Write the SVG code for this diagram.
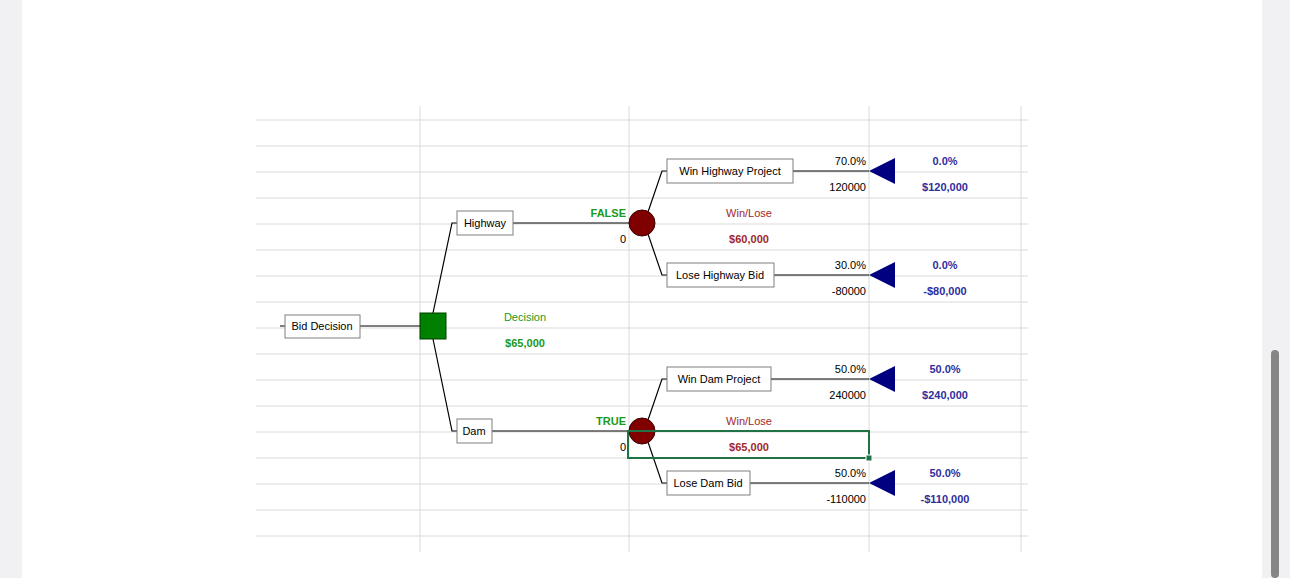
<svg xmlns="http://www.w3.org/2000/svg" width="1290" height="578" viewBox="0 0 1290 578">
<style>
.g{stroke:#dadada;stroke-width:1}
.b{fill:#fff;stroke:#7f7f7f;stroke-width:1}
.l{stroke:#000;stroke-width:1.2;fill:none}
text{font-family:"Liberation Sans",Arial,sans-serif;font-size:11px}
.r{text-anchor:end}
.c{text-anchor:middle}
.bd{font-weight:bold}
.nv{fill:#2e2e9e}
.dr{fill:#a0282a}
.gr{fill:#1a9a1a}
.tri{fill:#000080}
.chance{fill:#800000;stroke:#3a0000}
</style>
<rect width="1290" height="578" fill="#f1f1f3"/>
<rect x="22" y="0" width="1240" height="578" fill="#fff"/>
<rect x="1271" y="350" width="8" height="228" rx="4" fill="#858585"/>
<g id="grid">
<path class="g" d="M256 120H1028M256 146H1028M256 172H1028M256 198H1028M256 224H1028M256 250H1028M256 276H1028M256 302H1028M256 328H1028M256 354H1028M256 380H1028M256 406H1028M256 432H1028M256 458H1028M256 484H1028M256 510H1028M256 536H1028"/>
<path class="g" d="M420 106V552M629 106V552M869 106V552M1021 106V552"/>
</g>
<g id="connectors">
<path class="l" d="M280 326H285M360 326H420"/>
<path class="l" d="M433 313L452 223H457M513 223H629"/>
<path class="l" d="M433 339L452 431H457M492 431H629"/>
<path class="l" d="M648 212L662 171H667M793 171H869"/>
<path class="l" d="M648 234L662 275H667M774 275H869"/>
<path class="l" d="M648 420L662 379H667M771 379H869"/>
<path class="l" d="M648 442L662 483H667M750 483H869"/>
</g>
<g id="n-bid"><rect class="b" x="285" y="315" width="75" height="23"/><text x="322" y="330" class="c">Bid Decision</text></g>
<g id="n-decision"><rect x="420" y="313" width="26" height="26" fill="#008000" stroke="#004000"/>
<text x="525" y="321" class="c gr">Decision</text><text x="525" y="347" class="c gr bd">$65,000</text></g>
<g id="n-highway"><rect class="b" x="457" y="211" width="56" height="24"/><text x="485" y="227" class="c">Highway</text>
<text x="626" y="217" class="r gr bd">FALSE</text><text x="626" y="243" class="r">0</text></g>
<g id="n-chance1"><circle class="chance" cx="642" cy="223" r="13"/>
<text x="749" y="217" class="c dr">Win/Lose</text><text x="749" y="243" class="c dr bd">$60,000</text></g>
<g id="n-winhwy"><rect class="b" x="667" y="159" width="126" height="24"/><text x="730" y="175" class="c">Win Highway Project</text>
<text x="866" y="165" class="r">70.0%</text><text x="866" y="191" class="r">120000</text>
<polygon class="tri" points="869,171 895,158 895,184"/>
<text x="945" y="165" class="c nv bd">0.0%</text><text x="945" y="191" class="c nv bd">$120,000</text></g>
<g id="n-losehwy"><rect class="b" x="667" y="263" width="107" height="24"/><text x="720" y="279" class="c">Lose Highway Bid</text>
<text x="866" y="269" class="r">30.0%</text><text x="866" y="295" class="r">-80000</text>
<polygon class="tri" points="869,275 895,262 895,288"/>
<text x="945" y="269" class="c nv bd">0.0%</text><text x="945" y="295" class="c nv bd">-$80,000</text></g>
<g id="n-dam"><rect class="b" x="457" y="419" width="35" height="24"/><text x="474" y="435" class="c">Dam</text>
<text x="626" y="425" class="r gr bd">TRUE</text><text x="626" y="451" class="r">0</text></g>
<g id="n-chance2"><circle class="chance" cx="642" cy="431" r="13"/>
<text x="749" y="425" class="c dr">Win/Lose</text><text x="749" y="451" class="c dr bd">$65,000</text></g>
<g id="n-windam"><rect class="b" x="667" y="367" width="104" height="24"/><text x="719" y="383" class="c">Win Dam Project</text>
<text x="866" y="373" class="r">50.0%</text><text x="866" y="399" class="r">240000</text>
<polygon class="tri" points="869,379 895,366 895,392"/>
<text x="945" y="373" class="c nv bd">50.0%</text><text x="945" y="399" class="c nv bd">$240,000</text></g>
<g id="n-losedam"><rect class="b" x="667" y="471" width="83" height="24"/><text x="708" y="487" class="c">Lose Dam Bid</text>
<text x="866" y="477" class="r">50.0%</text><text x="866" y="503" class="r">-110000</text>
<polygon class="tri" points="869,483 895,470 895,496"/>
<text x="945" y="477" class="c nv bd">50.0%</text><text x="945" y="503" class="c nv bd">-$110,000</text></g>
<g id="selection"><rect x="628" y="431" width="241" height="27" fill="none" stroke="#217346" stroke-width="2"/><rect x="866" y="455" width="6" height="6" fill="#217346" stroke="#fff"/></g>
</svg>
